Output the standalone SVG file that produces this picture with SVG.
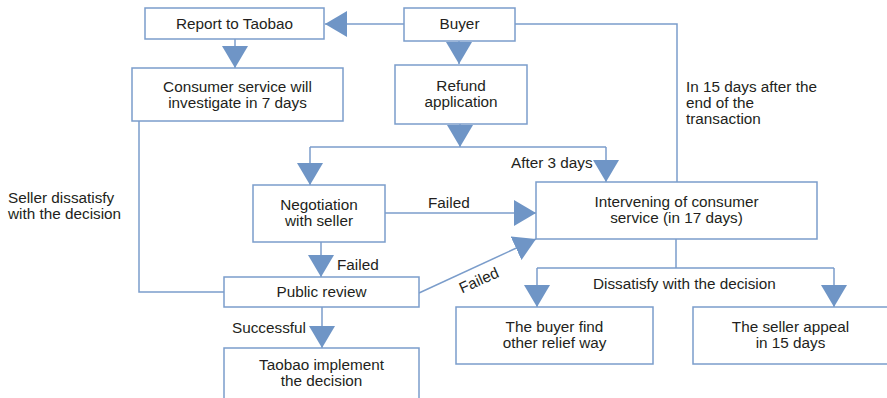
<svg xmlns="http://www.w3.org/2000/svg" width="887" height="398" viewBox="0 0 887 398">
<defs>
<style>
.box{fill:#ffffff;stroke:#7b9dcb;stroke-width:1.5}
.ln{fill:none;stroke:#7b9dcb;stroke-width:1.5}
.arr{marker-end:url(#ah)}
text{font-family:"Liberation Sans",Arial,sans-serif;font-size:15.3px;fill:#231f20}
.c{text-anchor:middle}
</style>
<marker id="ah" markerUnits="userSpaceOnUse" viewBox="0 0 22 26" refX="22" refY="13" markerWidth="22" markerHeight="26" orient="auto">
<path d="M0,0 L22,13 L0,26 Z" fill="#6f95c6"/>
</marker>
</defs>
<rect width="887" height="398" fill="#ffffff"/>
<g id="connectors">
<line class="ln arr" x1="404" y1="24" x2="325" y2="24"/>
<line class="ln arr" x1="235" y1="39" x2="235" y2="68"/>
<line class="ln arr" x1="459" y1="41" x2="459" y2="64"/>
<line class="ln arr" x1="460" y1="124" x2="460" y2="147"/>
<path class="ln" d="M310,147 H606"/>
<line class="ln arr" x1="310" y1="147" x2="310" y2="185"/>
<line class="ln arr" x1="606" y1="147" x2="606" y2="182"/>
<path class="ln" d="M515,24 H677 V182"/>
<line class="ln arr" x1="385" y1="213" x2="536" y2="213"/>
<line class="ln arr" x1="321" y1="242" x2="321" y2="277"/>
<path class="ln" d="M139,121 V292 H224"/>
<line class="ln arr" x1="419" y1="293" x2="536" y2="239"/>
<line class="ln arr" x1="322" y1="307" x2="322" y2="348"/>
<path class="ln" d="M676,239 V268 M537,268 H834"/>
<line class="ln arr" x1="537" y1="268" x2="537" y2="307"/>
<line class="ln arr" x1="834" y1="268" x2="834" y2="307"/>
</g>
<g id="labels">
<text x="686" y="92">In 15 days after the</text>
<text x="686" y="108">end of the</text>
<text x="686" y="124">transaction</text>
<text x="511" y="168">After 3 days</text>
<text x="428" y="208">Failed</text>
<text x="337" y="270">Failed</text>
<text x="232" y="333">Successful</text>
<text x="593" y="289">Dissatisfy with the decision</text>
<text x="8" y="203">Seller dissatisfy</text>
<text x="8" y="219">with the decision</text>
<text class="c" x="481" y="285" transform="rotate(-24 481 285)">Failed</text>
</g>
<g id="report">
<rect class="box" x="145" y="8" width="179" height="31"/>
<text class="c" x="234.5" y="29">Report to Taobao</text>
</g>
<g id="buyer">
<rect class="box" x="404" y="8" width="111" height="33"/>
<text class="c" x="459.5" y="29">Buyer</text>
</g>
<g id="consumer">
<rect class="box" x="132" y="68" width="211" height="53"/>
<text class="c" x="237.5" y="92">Consumer service will</text>
<text class="c" x="237.5" y="108">investigate in 7 days</text>
</g>
<g id="refund">
<rect class="box" x="395" y="65" width="132" height="59"/>
<text class="c" x="461" y="91">Refund</text>
<text class="c" x="461" y="107">application</text>
</g>
<g id="negotiation">
<rect class="box" x="253" y="185" width="132" height="57"/>
<text class="c" x="319" y="210">Negotiation</text>
<text class="c" x="319" y="226">with seller</text>
</g>
<g id="intervening">
<rect class="box" x="536" y="182" width="281" height="57"/>
<text class="c" x="676.5" y="207">Intervening of consumer</text>
<text class="c" x="676.5" y="223">service (in 17 days)</text>
</g>
<g id="public">
<rect class="box" x="224" y="277" width="195" height="30"/>
<text class="c" x="321.5" y="297">Public review</text>
</g>
<g id="implement">
<rect class="box" x="224" y="348" width="195" height="70"/>
<text class="c" x="321.5" y="370">Taobao implement</text>
<text class="c" x="321.5" y="386">the decision</text>
</g>
<g id="buyerfind">
<rect class="box" x="456" y="307" width="197" height="57"/>
<text class="c" x="554.5" y="332">The buyer find</text>
<text class="c" x="554.5" y="348">other relief way</text>
</g>
<g id="sellerappeal">
<rect class="box" x="693" y="307" width="220" height="57"/>
<text class="c" x="790.5" y="332">The seller appeal</text>
<text class="c" x="790.5" y="348">in 15 days</text>
</g>
</svg>
